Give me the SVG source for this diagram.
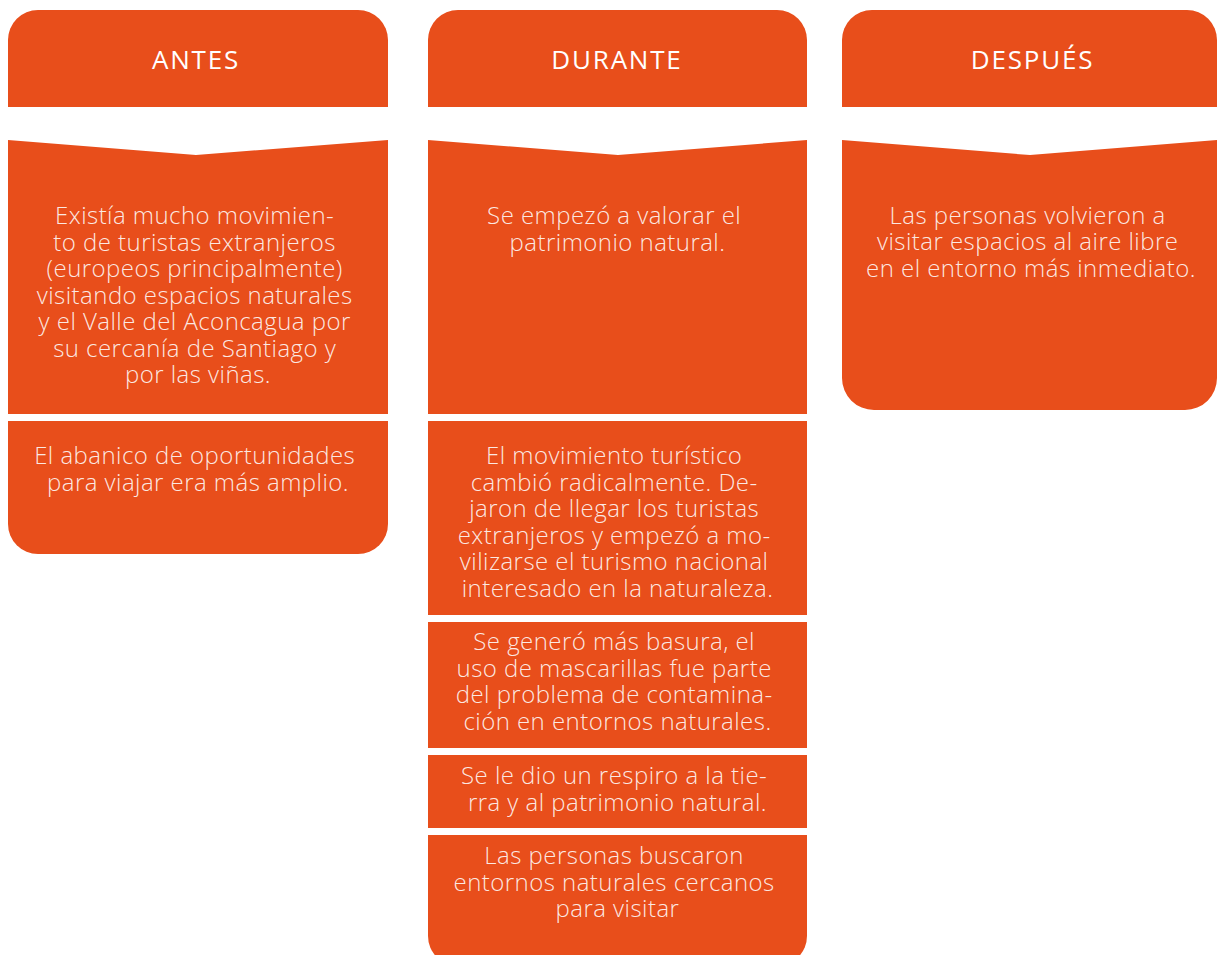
<svg xmlns="http://www.w3.org/2000/svg" width="1217" height="955" viewBox="0 0 1217 955">
<style>
.box{fill:#E84E1B}
.hd{font-family:"Open Sans","Liberation Sans",sans-serif;font-weight:500;font-size:26px;letter-spacing:1.8px;fill:#FFFFFF;text-anchor:middle}
.bt{font-family:"Open Sans","Liberation Sans",sans-serif;font-weight:300;font-size:24px;letter-spacing:0.45px;fill:#FFFFFF;fill-opacity:0.88;text-anchor:middle}
</style>
<rect width="1217" height="955" fill="#FFFFFF"/>
<g id="antes">
  <path class="box" d="M8,107 V40 A30,30 0 0 1 38,10 H358 A30,30 0 0 1 388,40 V107 Z"/>
  <text class="hd" x="196" y="69">ANTES</text>
  <path class="box" d="M8,140 L196,155 L388,140 V414 H8 Z"/>
  <text class="bt">
    <tspan x="198" y="224">Existía mucho movimien-</tspan>
    <tspan x="198" y="250.5">to de turistas extranjeros</tspan>
    <tspan x="198" y="277">(europeos principalmente)</tspan>
    <tspan x="198" y="303.5">visitando espacios naturales</tspan>
    <tspan x="198" y="330">y el Valle del Aconcagua por</tspan>
    <tspan x="198" y="356.5">su cercanía de Santiago y</tspan>
    <tspan x="198" y="383">por las viñas.</tspan>
  </text>
  <path class="box" d="M8,421 H388 V524 A30,30 0 0 1 358,554 H38 A30,30 0 0 1 8,524 Z"/>
  <text class="bt">
    <tspan x="198" y="464">El abanico de oportunidades</tspan>
    <tspan x="198" y="490.5">para viajar era más amplio.</tspan>
  </text>
</g>
<g id="durante">
  <path class="box" d="M428,107 V40 A30,30 0 0 1 458,10 H777 A30,30 0 0 1 807,40 V107 Z"/>
  <text class="hd" x="617" y="69">DURANTE</text>
  <path class="box" d="M428,140 L618,155 L807,140 V414 H428 Z"/>
  <text class="bt">
    <tspan x="617.5" y="224">Se empezó a valorar el</tspan>
    <tspan x="617.5" y="250.5">patrimonio natural.</tspan>
  </text>
  <rect class="box" x="428" y="421" width="379" height="194"/>
  <text class="bt">
    <tspan x="617.5" y="464">El movimiento turístico</tspan>
    <tspan x="617.5" y="490.5">cambió radicalmente. De-</tspan>
    <tspan x="617.5" y="517">jaron de llegar los turistas</tspan>
    <tspan x="617.5" y="543.5">extranjeros y empezó a mo-</tspan>
    <tspan x="617.5" y="570">vilizarse el turismo nacional</tspan>
    <tspan x="617.5" y="596.5">interesado en la naturaleza.</tspan>
  </text>
  <rect class="box" x="428" y="622" width="379" height="126"/>
  <text class="bt">
    <tspan x="617.5" y="650">Se generó más basura, el</tspan>
    <tspan x="617.5" y="676.5">uso de mascarillas fue parte</tspan>
    <tspan x="617.5" y="703">del problema de contamina-</tspan>
    <tspan x="617.5" y="729.5">ción en entornos naturales.</tspan>
  </text>
  <rect class="box" x="428" y="755" width="379" height="73"/>
  <text class="bt">
    <tspan x="617.5" y="784">Se le dio un respiro a la tie-</tspan>
    <tspan x="617.5" y="810.5">rra y al patrimonio natural.</tspan>
  </text>
  <path class="box" d="M428,835 H807 V936 A30,30 0 0 1 777,966 H458 A30,30 0 0 1 428,936 Z"/>
  <text class="bt">
    <tspan x="617.5" y="864">Las personas buscaron</tspan>
    <tspan x="617.5" y="890.5">entornos naturales cercanos</tspan>
    <tspan x="617.5" y="917">para visitar</tspan>
  </text>
</g>
<g id="despues">
  <path class="box" d="M842,107 V40 A30,30 0 0 1 872,10 H1187 A30,30 0 0 1 1217,40 V107 Z"/>
  <text class="hd" x="1032.5" y="69">DESPUÉS</text>
  <path class="box" d="M842,140 L1030,155 L1217,140 V378 A32,32 0 0 1 1185,410 H874 A32,32 0 0 1 842,378 Z"/>
  <text class="bt">
    <tspan x="1031" y="223.5">Las personas volvieron a</tspan>
    <tspan x="1031" y="250">visitar espacios al aire libre</tspan>
    <tspan x="1031" y="276.5">en el entorno más inmediato.</tspan>
  </text>
</g>
<g id="connectors"/>
</svg>
